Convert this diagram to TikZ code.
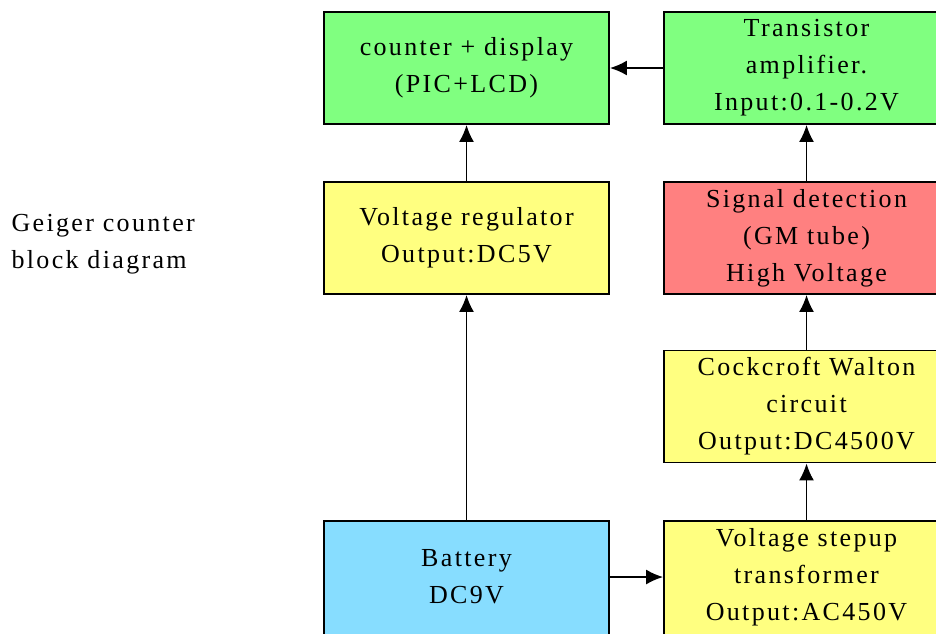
\documentclass[tikz,border=0pt]{standalone}
\usepackage{fontspec}
\setmainfont{Liberation Serif}[LetterSpace=9]
\usetikzlibrary{arrows.meta}
\definecolor{bgreen}{RGB}{128,255,128}
\definecolor{byellow}{RGB}{255,255,128}
\definecolor{bred}{RGB}{255,128,128}
\definecolor{bblue}{RGB}{135,221,255}
\tikzset{
  blk/.style={draw=black, line width=1.8pt, minimum width=285pt, minimum height=112pt,
    inner sep=0pt, align=center, font=\fontsize{26}{37}\selectfont},
  btxt/.style={align=center, font=\fontsize{26}{37}\selectfont},
  conn/.style={line width=1.8pt, -{Latex[length=17pt,width=15pt]}},
}
\begin{document}
\begin{tikzpicture}[x=1pt,y=-1pt]
\useasboundingbox (0,0) rectangle (936,633);
\clip (0,0) rectangle (936,633);
\fill[white] (0,0) rectangle (936,633);
\node[blk, fill=bgreen] (cnt) at (466.5,68) {counter + display\\(PIC+LCD)};
\node[blk, fill=bgreen] (amp) at (806.5,68) {Transistor\\amplifier.\\Input:0.1-0.2V};
\node[blk, fill=byellow] (reg) at (466.5,238) {Voltage regulator\\Output:DC5V};
\node[blk, fill=bred] (sig) at (806.5,238) {Signal detection\\(GM tube)\\High Voltage};
\node[blk, fill=byellow] (cw) at (806.5,406.5) {Cockcroft Walton\\circuit\\Output:DC4500V};
\node[blk, fill=bblue, minimum height=116pt] (bat) at (466.5,579) {};
\node[btxt] (battxt) at (466.5,577) {Battery\\DC9V};
\node[blk, fill=byellow, minimum height=116pt] (step) at (806.5,579) {};
\node[btxt] (steptxt) at (806.5,577) {Voltage stepup\\transformer\\Output:AC450V};
\node[anchor=west, align=left, font=\fontsize{26}{37}\selectfont] (title) at (8,244) {Geiger counter\\block diagram};
\draw[conn] (amp.west) -- (cnt.east);
\draw[conn] (reg.north) -- (cnt.south);
\draw[conn] (bat.north) -- (reg.south);
\draw[conn] (sig.north) -- (amp.south);
\draw[conn] (cw.north) -- (sig.south);
\draw[conn] (step.north) -- (cw.south);
\draw[conn] (bat.east |- battxt) -- (step.west |- battxt);
\end{tikzpicture}
\end{document}
